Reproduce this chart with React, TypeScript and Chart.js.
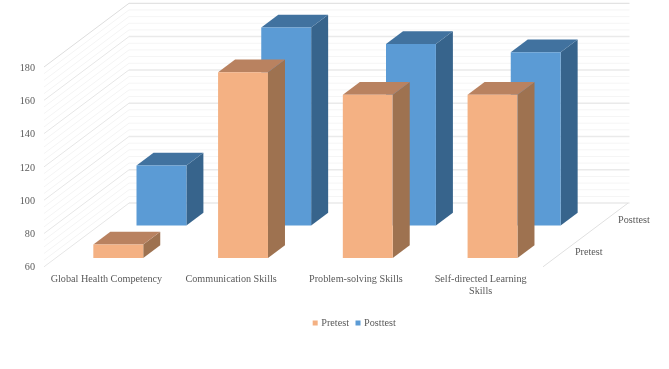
import React, { useEffect, useRef } from "react";
import { Chart, registerables } from "chart.js";

Chart.register(...registerables);

const categories = [
  "Global Health Competency",
  "Communication Skills",
  "Problem-solving Skills",
  ["Self-directed Learning", "Skills"],
];
const pretest = [68, 171.5, 158, 158];
const posttest = [96, 179, 169, 164];
const yTicks = [60, 80, 100, 120, 140, 160, 180];
const minorStep = 4;

const FONT = "'Liberation Serif', serif";
const TEXT = "#595959";
const WALL_DX = 85;
const WALL_DY = 63.7;
const BACK_EXTRA = 1.5;
const BAR_DEPTH = 0.2;
const depths = [0.14, 0.648];
const sideColors = ["#9E7250", "#37648C"];
const topColors = ["#B98260", "#41729F"];

function poly(ctx: CanvasRenderingContext2D, pts: number[][], color: string) {
  ctx.fillStyle = color;
  ctx.beginPath();
  pts.forEach(([x, y], i) => (i ? ctx.lineTo(x, y) : ctx.moveTo(x, y)));
  ctx.closePath();
  ctx.fill();
}

const walls3d = {
  id: "walls3d",
  afterLayout(chart: any) {
    const l = chart.legend;
    const w = l.right - l.left;
    const h = l.bottom - l.top;
    l.left = 355 - w / 2;
    l.right = l.left + w;
    l.top = 324 - h / 2;
    l.bottom = l.top + h;
    l.adjustHitBoxes && l.adjustHitBoxes();
  },
  beforeDatasetsDraw(chart: any) {
    const { ctx, chartArea, scales } = chart;
    const y = scales.y;
    const x0 = chartArea.left;
    const backX0 = x0 + WALL_DX;
    const backX1 = chartArea.right + WALL_DX + BACK_EXTRA;
    ctx.save();
    const drawLine = (v: number, sideColor: string, backColor: string, backWidth: number) => {
      const py = y.getPixelForValue(v);
      ctx.lineWidth = 1;
      ctx.strokeStyle = sideColor;
      ctx.beginPath();
      ctx.moveTo(x0, py);
      ctx.lineTo(backX0, py - WALL_DY);
      ctx.stroke();
      ctx.lineWidth = backWidth;
      ctx.strokeStyle = backColor;
      ctx.beginPath();
      ctx.moveTo(backX0, py - WALL_DY);
      ctx.lineTo(backX1, py - WALL_DY);
      ctx.stroke();
    };
    for (let v = y.min; v < y.max; v += minorStep) {
      if ((v - y.min) % 20 !== 0) drawLine(v, "#F4F4F4", "#F5F5F5", 1);
    }
    yTicks.forEach((v) =>
      v === y.max ? drawLine(v, "#DDDDDD", "#DDDDDD", 1) : drawLine(v, "#E6E6E6", "#EAEAEA", 1.5)
    );
    // floor front-right edge
    ctx.strokeStyle = "#E0E0E0";
    ctx.lineWidth = 1;
    ctx.beginPath();
    ctx.moveTo(chartArea.right, chartArea.bottom);
    ctx.lineTo(chartArea.right + WALL_DX, chartArea.bottom - WALL_DY);
    ctx.stroke();
    // depth axis labels
    ctx.fillStyle = TEXT;
    ctx.font = `10.2px ${FONT}`;
    ctx.textAlign = "left";
    ctx.textBaseline = "middle";
    chart.data.datasets.forEach((ds: any, i: number) => {
      const d = depths[i] + BAR_DEPTH / 2;
      ctx.fillText(
        ds.label,
        chartArea.right + d * WALL_DX + 11.5,
        chartArea.bottom - d * WALL_DY + 1
      );
    });
    ctx.restore();
  },
  beforeDatasetDraw(chart: any, args: any) {
    const { ctx } = chart;
    const i = args.index;
    const ox = depths[i] * WALL_DX;
    const oy = -depths[i] * WALL_DY;
    const bx = BAR_DEPTH * WALL_DX;
    const by = -BAR_DEPTH * WALL_DY;
    ctx.save();
    ctx.translate(ox, oy);
    args.meta.data.forEach((el: any) => {
      const { x, y, base, width } = el.getProps(["x", "y", "base", "width"], true);
      const l = x - width / 2;
      const r = x + width / 2;
      poly(ctx, [[r, y], [r + bx, y + by], [r + bx, base + by], [r, base]], sideColors[i]);
      poly(ctx, [[l, y], [l + bx, y + by], [r + bx, y + by], [r, y]], topColors[i]);
    });
  },
  afterDatasetDraw(chart: any) {
    chart.ctx.restore();
  },
};

export default function App() {
  const ref = useRef<HTMLCanvasElement>(null);
  useEffect(() => {
    const chart = new Chart(ref.current as HTMLCanvasElement, {
      type: "bar",
      data: {
        labels: categories as any,
        datasets: [
          { label: "Pretest", data: pretest, backgroundColor: "#F4B183", clip: false as any, base: yTicks[0] },
          { label: "Posttest", data: posttest, backgroundColor: "#5B9BD5", clip: false as any, base: yTicks[0] },
        ],
      },
      plugins: [walls3d],
      options: {
        responsive: false,
        animation: false,
        layout: { padding: { left: 0, right: 126, top: 67, bottom: 0 } },
        datasets: { bar: { grouped: false, categoryPercentage: 0.4, barPercentage: 1, borderWidth: 0 } } as any,
        plugins: {
          tooltip: { enabled: false },
          legend: {
            position: "bottom",
            labels: {
              boxWidth: 2,
              boxHeight: 2,
              padding: 8,
              color: TEXT,
              font: { family: FONT, size: 10.2 },
              generateLabels(chart: any) {
                const items = (Chart.defaults as any).plugins.legend.labels.generateLabels(chart);
                items.forEach((it: any) => {
                  it.strokeStyle = it.fillStyle;
                  it.lineWidth = 3;
                });
                return items;
              },
            },
          },
        },
        scales: {
          x: {
            grid: { display: false },
            border: { display: false },
            ticks: {
              color: TEXT,
              font: { family: FONT, size: 10.2, lineHeight: 1.15 },
              padding: -1,
              maxRotation: 0,
              autoSkip: false,
            },
            afterFit(s: any) {
              s.height = 74;
            },
          },
          y: {
            min: 60,
            max: 180,
            grid: { display: false },
            border: { display: false },
            ticks: {
              stepSize: 20,
              color: TEXT,
              font: { family: FONT, size: 10.2 },
              padding: 1,
              labelOffset: 1,
            },
            afterFit(s: any) {
              s.width = 44;
            },
          },
        },
      },
    });
    return () => chart.destroy();
  }, []);
  return (
    <canvas
      ref={ref}
      width={669}
      height={369}
      style={{ position: "fixed", left: 0, top: 0, width: 669, height: 369, background: "#fff" }}
    />
  );
}
